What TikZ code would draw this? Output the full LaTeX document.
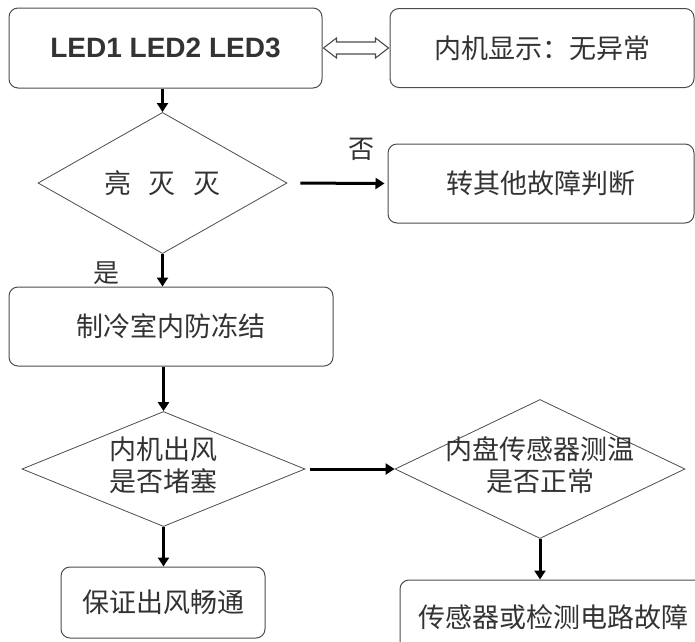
\documentclass[tikz,border=0pt]{standalone}
\usepackage{fontspec}
\setmainfont{Liberation Sans}
\newfontfamily\cjk{Noto Sans CJK SC}
\usetikzlibrary{shapes.geometric,arrows.meta,calc}
\newcommand{\twoline}[2]{\makebox[0pt]{\begin{tabular}{@{}c@{}}#1\\#2\end{tabular}}}
\tikzset{
  box/.style={draw=black!70, line width=1pt, rounded corners=9pt, minimum height=79pt, inner sep=0pt, text=black!80, font=\cjk\fontsize{27}{31}\selectfont},
  dia/.style={draw=black!70, line width=.8pt, diamond, inner sep=0pt, text=black!80, font=\cjk\fontsize{27}{31}\selectfont},
  lbl/.style={text=black!80, font=\cjk\fontsize{26}{30}\selectfont},
  arr/.style={line width=3pt, -{Triangle[length=9pt,width=11pt]}},
  hollow/.style={draw=black!70, line width=1.1pt, line join=miter}
}
\begin{document}
\begin{tikzpicture}[x=1pt,y=-1pt]
\clip (0,0) rectangle (695,641);
\node[box, minimum width=313pt, minimum height=80pt, font=\bfseries\fontsize{28}{32}\selectfont] (led) at (165.5,48) {LED1 LED2 LED3};
\node[box, minimum width=304pt] (disp) at (542,48) {内机显示：无异常};
\node[dia, minimum width=249pt, minimum height=110pt] (d1) at (162.5,183) {{\spaceskip=.65em 亮 灭 灭}};
\node[box, minimum width=306pt] (other) at (541,183.5) {转其他故障判断};
\node[box, minimum width=324pt] (frost) at (171,326.5) {制冷室内防冻结};
\node[dia, minimum width=283pt, minimum height=115pt] (d2) at (163.5,469) {\twoline{内机出风}{是否堵塞}};
\node[dia, minimum width=290pt, minimum height=139pt] (d3) at (540,469) {\twoline{内盘传感器测温}{是否正常}};
\node[box, minimum width=204pt, minimum height=71pt] (clear) at (163,602.5) {保证出风畅通};
\node[box, minimum width=306pt, minimum height=74pt] (fault) at (553,617) {传感器或检测电路故障};
\draw[hollow] ($(led.east)+(1,0)$) -- ++(13,-10) -- ++(0,4) -- ($(disp.west)+(-14,-6)$) -- ++(0,-4)
  -- ($(disp.west)+(-1,0)$) -- ++(-13,10) -- ++(0,-4) -- ($(led.east)+(14,6)$) -- ++(0,4) -- cycle;
\draw[arr] (d1.north |- led.south) -- (d1.north);
\draw[arr, shorten <=13pt, shorten >=3pt] (d1.east) -- (other.west) node[lbl, pos=.74, above=18pt] {否};
\draw[arr] (d1.south) -- (d1.south |- frost.north) node[lbl, pos=.6, left=38pt] {是};
\draw[arr] (frost.south -| d2.north) -- (d2.north);
\draw[arr, shorten <=5pt] (d2.east) -- (d3.west);
\draw[arr] (d2.south) -- (d2.south |- clear.north);
\draw[arr] (d3.south) -- (d3.south |- fault.north);
\end{tikzpicture}
\end{document}
